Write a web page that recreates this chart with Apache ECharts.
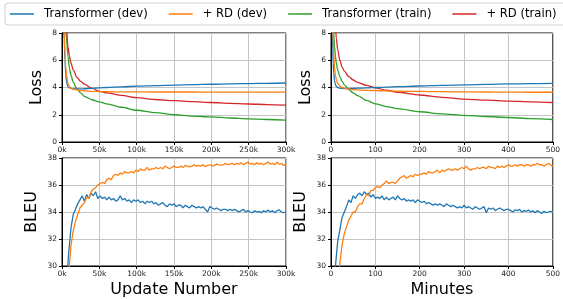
<!DOCTYPE html>
<html>
<head>
<meta charset="utf-8">
<script src="https://cdn.jsdelivr.net/npm/echarts@6/dist/echarts.min.js"></script>
<style>
  html, body { margin: 0; padding: 0; background: #fff; }
  #chart { width: 563px; height: 299px; }
</style>
</head>
<body>
<div id="chart"></div>
<script>
// Loss curves vs update number (thousands)
const lossUpdates = [1, 2, 3, 4, 5, 6, 8, 10, 12, 15, 20, 25, 30, 40, 50, 60, 80, 100, 125, 150, 175, 200, 225, 250, 275, 300];
const lossUpdDevBase = [14, 9, 7.5, 6, 5, 4.4, 4.05, 3.97, 3.93, 3.91, 3.9, 3.9, 3.91, 3.94, 3.97, 4.0, 4.05, 4.1, 4.14, 4.18, 4.21, 4.24, 4.27, 4.29, 4.31, 4.33];
const lossUpdDevRD = [14, 10, 8, 6.5, 5.5, 4.9, 4.3, 4.05, 3.95, 3.88, 3.82, 3.78, 3.76, 3.72, 3.7, 3.69, 3.68, 3.68, 3.67, 3.67, 3.67, 3.66, 3.66, 3.66, 3.66, 3.66];
const lossUpdTrainBase = [30, 20, 13, 10, 8.5, 7.6, 6.3, 5.4, 4.9, 4.4, 3.9, 3.6, 3.35, 3.1, 2.95, 2.8, 2.55, 2.33, 2.15, 2.0, 1.9, 1.84, 1.76, 1.7, 1.65, 1.61];
const lossUpdTrainRD = [40, 25, 18, 14, 10, 8.3, 7.0, 6.3, 5.8, 5.3, 4.75, 4.45, 4.25, 3.95, 3.72, 3.6, 3.42, 3.25, 3.12, 3.03, 2.96, 2.9, 2.84, 2.79, 2.75, 2.71];

// Loss curves vs wall-clock minutes
const lossMinutes = [1, 2, 3, 4, 5, 6, 8, 10, 12, 15, 20, 25, 30, 40, 50, 60, 80, 100, 125, 150, 200, 250, 300, 350, 400, 450, 500];
const lossMinDevBase = [14, 9.5, 8, 6.8, 5.8, 5.1, 4.5, 4.2, 4.08, 4.0, 3.95, 3.93, 3.92, 3.92, 3.93, 3.95, 3.97, 4.0, 4.03, 4.06, 4.11, 4.16, 4.2, 4.23, 4.26, 4.28, 4.3];
const lossMinDevRD = [20, 13, 10, 8.5, 7.3, 6.6, 5.5, 4.9, 4.6, 4.3, 4.1, 4.0, 3.95, 3.88, 3.84, 3.82, 3.79, 3.77, 3.75, 3.73, 3.71, 3.69, 3.68, 3.67, 3.66, 3.65, 3.65];
const lossMinTrainBase = [40, 20, 13, 10, 8.8, 8, 7, 6.3, 5.8, 5.3, 4.8, 4.45, 4.2, 3.85, 3.6, 3.4, 3.05, 2.8, 2.6, 2.45, 2.22, 2.06, 1.95, 1.87, 1.8, 1.72, 1.65];
const lossMinTrainRD = [60, 40, 28, 20, 16, 13, 10.5, 8.5, 7.6, 6.8, 6.0, 5.5, 5.2, 4.8, 4.55, 4.38, 4.15, 3.98, 3.8, 3.65, 3.45, 3.28, 3.15, 3.07, 3.0, 2.95, 2.9];

// BLEU on dev, evaluated every 3k updates starting at 6k
const bleuUpdStart = 6, bleuUpdStep = 3;
const bleuUpdBase = [28.5, 31.0, 32.8, 33.8, 34.2, 34.6, 34.9, 35.2, 34.8, 35.3, 35.0, 35.4, 35.2, 35.5, 35.0, 35.2, 35.0, 35.1, 34.9, 35.1,
  34.9, 35.0, 34.8, 34.9, 35.2, 34.9, 35.0, 34.8, 34.9, 34.7, 34.9, 34.8, 34.9, 34.7, 34.8, 34.6, 34.8, 34.7, 34.8, 34.6,
  34.7, 34.5, 34.6, 34.7, 34.5, 34.4, 34.6, 34.5, 34.6, 34.4, 34.5, 34.5, 34.3, 34.5, 34.4, 34.3, 34.5, 34.4, 34.3, 34.4,
  34.3, 34.4, 34.2, 34.0, 34.4, 34.3, 34.2, 34.3, 34.2, 34.1, 34.2, 34.2, 34.1, 34.2, 34.1, 34.2, 34.1, 34.0, 34.1, 34.2,
  34.0, 34.1, 34.0, 33.95, 34.1, 34.0, 34.05, 33.95, 34.1, 34.0, 34.15, 34.0, 34.1, 33.95, 34.1, 34.15, 34.0, 33.95, 34.0];
const bleuUpdRD = [27, 29.5, 31.5, 32.6, 33.3, 33.8, 34.3, 34.5, 34.7, 35.1, 35.0, 35.5, 35.7, 35.8, 36.0, 36.1, 36.2, 36.1, 36.4, 36.5,
  36.4, 36.7, 36.8, 36.7, 36.9, 36.8, 37.0, 36.9, 36.9, 37.0, 36.9, 37.1, 37.0, 37.2, 37.1, 37.1, 37.3, 37.1, 37.2, 37.2,
  37.3, 37.2, 37.3, 37.2, 37.4, 37.3, 37.2, 37.3, 37.4, 37.3, 37.3, 37.4, 37.3, 37.45, 37.4, 37.35, 37.4, 37.5, 37.4, 37.45,
  37.4, 37.5, 37.35, 37.45, 37.5, 37.4, 37.45, 37.55, 37.5, 37.45, 37.5, 37.6, 37.5, 37.55, 37.6, 37.5, 37.6, 37.55, 37.65, 37.5,
  37.6, 37.7, 37.55, 37.6, 37.5, 37.65, 37.55, 37.6, 37.5, 37.6, 37.7, 37.55, 37.6, 37.5, 37.7, 37.55, 37.6, 37.45, 37.55];

// BLEU on dev, every 5 minutes starting at 5
const bleuMinStart = 5, bleuMinStep = 5;
const bleuMinBase = [27, 30.0, 31.8, 32.7, 33.6, 34.0, 34.4, 34.9, 34.7, 35.2, 35.0, 35.3, 35.4, 35.2, 35.5, 35.3, 35.4, 35.1, 35.3, 35.0,
  35.1, 35.0, 35.2, 34.9, 35.1, 34.9, 35.0, 35.1, 34.9, 35.2, 35.0, 34.9, 35.0, 34.8, 34.9, 34.8, 34.9, 34.7, 34.9, 34.8,
  34.7, 34.8, 34.6, 34.7, 34.6, 34.5, 34.6, 34.5, 34.6, 34.5, 34.4, 34.6, 34.5, 34.4, 34.5, 34.4, 34.3, 34.4, 34.3, 34.5,
  34.3, 34.4, 34.3, 34.2, 34.4, 34.3, 34.2, 34.3, 34.4, 33.95, 34.3, 34.2, 34.3, 34.1, 34.2, 34.3, 34.2, 34.1, 34.2, 34.2,
  34.1, 34.0, 34.15, 34.1, 34.2, 34.0, 34.1, 34.05, 34.15, 34.0, 34.1, 33.95, 34.1, 34.0, 33.9, 34.05, 33.95, 34.0, 34.05, 34.0];
const bleuMinRD = [24, 26, 28.5, 30.2, 31.6, 32.4, 32.9, 33.4, 33.7, 34.0, 34.0, 34.4, 34.6, 34.6, 35.0, 35.3, 35.2, 35.6, 35.6, 35.8,
  35.9, 35.8, 36.0, 36.1, 36.3, 36.1, 36.2, 36.2, 36.1, 36.3, 36.5, 36.6, 36.7, 36.5, 36.6, 36.7, 36.6, 36.8, 36.7, 36.8,
  36.8, 36.9, 36.8, 37.0, 36.9, 36.9, 37.0, 37.1, 36.9, 37.1, 37.0, 37.1, 37.2, 37.1, 37.1, 37.2, 37.1, 37.2, 37.3, 37.2,
  37.4, 37.2, 37.1, 37.2, 37.2, 37.3, 37.2, 37.3, 37.3, 37.2, 37.4, 37.3, 37.3, 37.2, 37.4, 37.3, 37.4, 37.3, 37.4, 37.5,
  37.4, 37.4, 37.5, 37.4, 37.5, 37.5, 37.4, 37.5, 37.5, 37.4, 37.5, 37.5, 37.6, 37.5, 37.5, 37.4, 37.5, 37.6, 37.5, 37.35];

const seriesNames = ["Transformer (dev)", "+ RD (dev)", "Transformer (train)", "+ RD (train)"];
const colors = ["#1f77b4", "#ff7f0e", "#2ca02c", "#d62728"];

const FONT = "DejaVu Sans";

function pairs(xs, ys) {
  return ys.map((y, i) => [xs[i], y]);
}
function stepped(start, step, ys) {
  return ys.map((y, i) => [start + i * step, y]);
}

function xAxisFor(gridIndex, max, interval, fmt, name) {
  return {
    gridIndex: gridIndex,
    type: "value",
    min: 0,
    max: max,
    interval: interval,
    name: name || "",
    nameLocation: "middle",
    nameGap: 16,
    nameTextStyle: { fontFamily: FONT, fontSize: 16, color: "#000" },
    axisLine: { show: true, onZero: false, lineStyle: { color: "#000", width: 1 } },
    axisTick: { show: true, length: 3, lineStyle: { color: "#000" } },
    axisLabel: { fontFamily: FONT, fontSize: 7.5, color: "#222", margin: 4, formatter: fmt },
    splitLine: { show: true, lineStyle: { color: "#c4c4c4", width: 1 } },
  };
}

function yAxisFor(gridIndex, min, max, name, gap) {
  return {
    gridIndex: gridIndex,
    type: "value",
    min: min,
    max: max,
    interval: 2,
    name: name,
    nameLocation: "middle",
    nameGap: gap,
    nameTextStyle: { fontFamily: FONT, fontSize: 16, color: "#000" },
    axisLine: { show: true, lineStyle: { color: "#000", width: 1 } },
    axisTick: { show: true, length: 3, lineStyle: { color: "#000" } },
    axisLabel: { fontFamily: FONT, fontSize: 7.5, color: "#222", margin: 5 },
    splitLine: { show: true, lineStyle: { color: "#c4c4c4", width: 1 } },
  };
}

function lineSeries(idx, axisIndex, data, smooth) {
  return {
    name: seriesNames[idx],
    type: "line",
    xAxisIndex: axisIndex,
    yAxisIndex: axisIndex,
    data: data,
    showSymbol: false,
    symbol: "none",
    smooth: smooth ? 0.3 : false,
    smoothMonotone: smooth ? "x" : undefined,
    clip: true,
    color: colors[idx],
    lineStyle: { color: colors[idx], width: 1.3 },
    z: idx === 0 || idx === 1 ? 3 : 2,
  };
}

const kFmt = (v) => v + "k";
const plainFmt = (v) => String(v);

let chart = echarts.init(document.getElementById("chart"));
let option = {
  animation: false,
  backgroundColor: "#fff",
  textStyle: { fontFamily: FONT },
  legend: {
    data: seriesNames,
    left: 5,
    top: 3,
    width: 900,
    orient: "horizontal",
    icon: "rect",
    itemWidth: 24,
    itemHeight: 1.5,
    itemGap: 21,
    padding: [4, 40, 4, 5],
    borderColor: "#d0d0d0",
    borderWidth: 1,
    borderRadius: 3,
    textStyle: { fontFamily: FONT, fontSize: 11.6, color: "#000", padding: [0, 0, 0, 5], lineHeight: 14 },
  },
  grid: [
    { left: 62, top: 33, width: 224, height: 109, show: true, borderColor: "#000", borderWidth: 1 },
    { left: 62, top: 158, width: 224, height: 108, show: true, borderColor: "#000", borderWidth: 1 },
    { left: 331, top: 33, width: 223, height: 109, show: true, borderColor: "#000", borderWidth: 1 },
    { left: 331, top: 158, width: 223, height: 108, show: true, borderColor: "#000", borderWidth: 1 },
  ],
  xAxis: [
    xAxisFor(0, 300, 50, kFmt),
    xAxisFor(1, 300, 50, kFmt, "Update Number"),
    xAxisFor(2, 500, 100, plainFmt),
    xAxisFor(3, 500, 100, plainFmt, "Minutes"),
  ],
  yAxis: [
    yAxisFor(0, 0, 8, "Loss", 17),
    yAxisFor(1, 30, 38, "BLEU", 22),
    yAxisFor(2, 0, 8, "Loss", 17),
    yAxisFor(3, 30, 38, "BLEU", 22),
  ],
  series: [
    lineSeries(2, 0, pairs(lossUpdates, lossUpdTrainBase), true),
    lineSeries(3, 0, pairs(lossUpdates, lossUpdTrainRD), true),
    lineSeries(0, 0, pairs(lossUpdates, lossUpdDevBase), true),
    lineSeries(1, 0, pairs(lossUpdates, lossUpdDevRD), true),

    lineSeries(0, 1, stepped(bleuUpdStart, bleuUpdStep, bleuUpdBase), false),
    lineSeries(1, 1, stepped(bleuUpdStart, bleuUpdStep, bleuUpdRD), false),

    lineSeries(2, 2, pairs(lossMinutes, lossMinTrainBase), true),
    lineSeries(3, 2, pairs(lossMinutes, lossMinTrainRD), true),
    lineSeries(0, 2, pairs(lossMinutes, lossMinDevBase), true),
    lineSeries(1, 2, pairs(lossMinutes, lossMinDevRD), true),

    lineSeries(0, 3, stepped(bleuMinStart, bleuMinStep, bleuMinBase), false),
    lineSeries(1, 3, stepped(bleuMinStart, bleuMinStep, bleuMinRD), false),
  ],
};
chart.setOption(option);
</script>
</body>
</html>
